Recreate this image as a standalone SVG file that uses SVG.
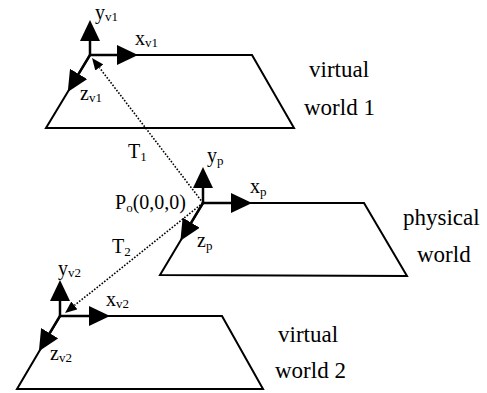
<svg xmlns="http://www.w3.org/2000/svg" width="487" height="393" viewBox="0 0 487 393">
<defs>
<marker id="ax" viewBox="0 0 21 20" markerWidth="21" markerHeight="20" refX="0" refY="10" orient="auto" markerUnits="userSpaceOnUse"><path d="M0,0 L21,10 L0,20 Z" fill="#000"/></marker>
<marker id="dot" viewBox="0 0 12 10" markerWidth="12" markerHeight="10" refX="0" refY="5" orient="auto" markerUnits="userSpaceOnUse"><path d="M0,0 L12,5 L0,10 Z" fill="#000"/></marker>
<style>
.plane{fill:none;stroke:#000;stroke-width:2;stroke-linejoin:miter}
.axis{stroke:#000;stroke-width:2.5;fill:none;marker-end:url(#ax)}
.conn{stroke:#000;stroke-width:1.6;stroke-dasharray:1.6 1.6;fill:none;marker-end:url(#dot)}
.lab{font-size:20px}
.sub{font-size:13px}
.big{font-size:23px}
</style>
</defs>
<rect width="487" height="393" fill="#fff"/>
<g font-family="Liberation Serif, Times New Roman, serif" fill="#000">
<g id="virtual-world-1">
<polygon class="plane" points="90,55 252,55 294,128 46,128"/>
<path class="axis" d="M90,55 L90,41"/>
<path class="axis" d="M90,55 L117,55"/>
<path class="axis" d="M90,55 L78.6,73.9"/>
<text class="lab" x="95" y="19">y<tspan class="sub" dy="2">v1</tspan></text>
<text class="lab" x="135" y="45">x<tspan class="sub" dy="2">v1</tspan></text>
<text class="lab" x="80" y="100">z<tspan class="sub" dy="2">v1</tspan></text>
<text class="big" x="309" y="77">virtual</text>
<text class="big" x="304" y="115">world 1</text>
</g>
<g id="physical-world">
<polygon class="plane" points="203,203 364,203 407,276 160,275"/>
<path class="axis" d="M203,203 L203,188"/>
<path class="axis" d="M203,203 L231,203"/>
<path class="axis" d="M203,203 L191.2,222.7"/>
<text class="lab" x="207" y="162">y<tspan class="sub" dy="3">p</tspan></text>
<text class="lab" x="250" y="193">x<tspan class="sub" dy="3">p</tspan></text>
<text class="lab" x="197" y="247">z<tspan class="sub" dy="3">p</tspan></text>
<text class="lab" x="115" y="209">P<tspan class="sub" dy="3">o</tspan><tspan dy="-3">(0,0,0)</tspan></text>
<text class="big" x="403" y="225">physical</text>
<text class="big" x="417" y="262">world</text>
</g>
<g id="virtual-world-2">
<polygon class="plane" points="60,316 222,316 263,389 17,389"/>
<path class="axis" d="M60,316 L60,301"/>
<path class="axis" d="M60,316 L89,316"/>
<path class="axis" d="M60,316 L49.7,333.2"/>
<text class="lab" x="58" y="275">y<tspan class="sub" dy="2">v2</tspan></text>
<text class="lab" x="106" y="306">x<tspan class="sub" dy="2">v2</tspan></text>
<text class="lab" x="50" y="360">z<tspan class="sub" dy="2">v2</tspan></text>
<text class="big" x="278" y="342">virtual</text>
<text class="big" x="275" y="378">world 2</text>
</g>
<g id="connectors">
<path id="T1" class="conn" d="M203,203 L99.3,67.5"/>
<path id="T2" class="conn" d="M203,203 L74.4,305.5"/>
<text class="lab" x="128" y="158">T<tspan class="sub" dy="3">1</tspan></text>
<text class="lab" x="112" y="253">T<tspan class="sub" dy="3">2</tspan></text>
</g>
</g>
</svg>
